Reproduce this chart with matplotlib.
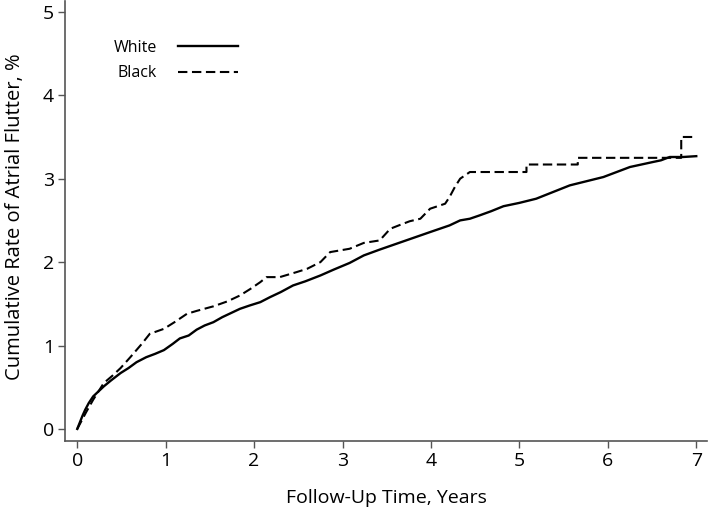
#!/usr/bin/env python3
"""
Cumulative rate of atrial flutter by race
"""

import matplotlib
matplotlib.use("Agg")
import matplotlib.pyplot as plt

# (years, %)
white_t = [0, 0.03, 0.06, 0.09, 0.13, 0.18, 0.24, 0.30, 0.38, 0.49, 0.58, 0.67, 0.78, 0.88,
           0.98, 1.08, 1.16, 1.26, 1.35, 1.44, 1.54, 1.64, 1.74, 1.84, 1.95, 2.07, 2.18, 2.30,
           2.44, 2.58, 2.75, 2.90, 3.08, 3.24, 3.42, 3.61, 3.80, 3.99, 4.10, 4.21, 4.33, 4.44,
           4.55, 4.68, 4.82, 5.00, 5.19, 5.38, 5.57, 5.76, 5.95, 6.10, 6.25, 6.38, 6.51, 6.60,
           6.70, 6.85, 7.0]
white_v = [0, 0.08, 0.16, 0.23, 0.31, 0.39, 0.45, 0.51, 0.58, 0.67, 0.73, 0.80, 0.86, 0.90,
           0.945, 1.02, 1.085, 1.12, 1.19, 1.24, 1.28, 1.34, 1.39, 1.44, 1.48, 1.52, 1.58, 1.64,
           1.72, 1.77, 1.84, 1.91, 1.99, 2.08, 2.15, 2.22, 2.29, 2.36, 2.40, 2.44, 2.50, 2.52,
           2.56, 2.61, 2.67, 2.71, 2.76, 2.84, 2.92, 2.97, 3.02, 3.08, 3.14, 3.17, 3.20, 3.22,
           3.26, 3.26, 3.27]

# plateaus and jumps at the end are written as repeated times
black_t = [0, 0.05, 0.10, 0.18, 0.30, 0.40, 0.49, 0.60, 0.73, 0.82, 0.98, 1.10, 1.24, 1.35,
           1.54, 1.70, 1.84, 1.96, 2.07, 2.14, 2.29, 2.48, 2.60, 2.75, 2.86, 3.08, 3.24, 3.42,
           3.54, 3.66, 3.76, 3.88, 3.99, 4.16, 4.21, 4.27, 4.33, 4.44, 5.08, 5.08, 5.66, 5.66,
           6.83, 6.83, 7.0]
black_v = [0, 0.1, 0.2, 0.35, 0.55, 0.64, 0.73, 0.86, 1.02, 1.14, 1.20, 1.28, 1.38, 1.415,
           1.47, 1.53, 1.60, 1.68, 1.76, 1.82, 1.82, 1.88, 1.92, 2.0, 2.12, 2.16, 2.23, 2.26,
           2.40, 2.45, 2.49, 2.52, 2.64, 2.70, 2.78, 2.9, 3.0, 3.08, 3.08, 3.17, 3.17, 3.25,
           3.25, 3.50, 3.50]

x_ticks = [0, 1, 2, 3, 4, 5, 6, 7]
y_ticks = [0, 1, 2, 3, 4, 5]


def main():
    plt.rcParams["font.family"] = ["Open Sans", "DejaVu Sans"]

    fig = plt.figure(figsize=(7.09, 5.08), dpi=100)
    ax = fig.add_axes([0.092, 0.132, 0.905, 0.866])

    ax.plot(white_t, white_v, color="black", linewidth=1.7, label="White")
    ax.plot(black_t, black_v, color="black", linewidth=1.5,
            dashes=(4.5, 2.2), label="Black")

    ax.set_xlim(-0.136, 7.12)
    ax.set_ylim(-0.144, 5.13)
    ax.set_xticks(x_ticks)
    ax.set_yticks(y_ticks)

    for side in ["top", "right"]:
        ax.spines[side].set_visible(False)
    for side in ["left", "bottom"]:
        ax.spines[side].set_color("#555555")
        ax.spines[side].set_linewidth(1.2)
    ax.tick_params(direction="out", length=5, width=1.0, color="#555555",
                   labelsize=14, pad=3)

    ax.set_xlabel("Follow-Up Time, Years", fontsize=14, labelpad=14)
    ax.set_ylabel("Cumulative Rate of Atrial Flutter, %", fontsize=14.5)
    ax.yaxis.set_label_coords(-0.062, 0.51)

    ax.legend(loc="upper left", bbox_to_anchor=(0.053, 0.945), frameon=False,
              markerfirst=False, fontsize=11.5, handlelength=3.8,
              handletextpad=1.3, labelspacing=0.6)

    fig.savefig("out.png", dpi=100)


if __name__ == "__main__":
    main()
